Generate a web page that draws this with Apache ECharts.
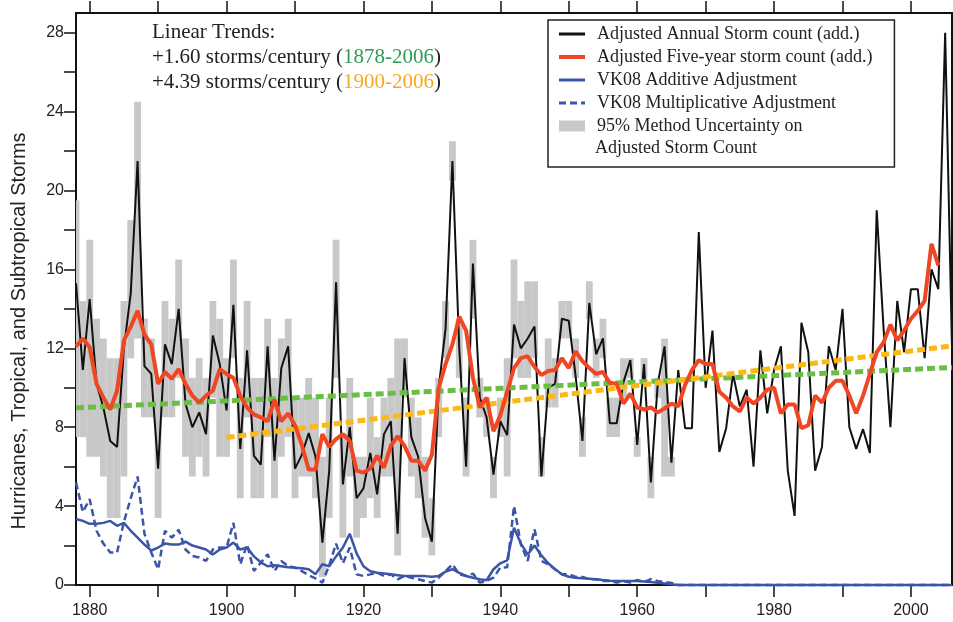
<!DOCTYPE html>
<html>
<head>
<meta charset="utf-8">
<script src="https://cdn.jsdelivr.net/npm/echarts@6/dist/echarts.min.js"></script>
<style>
  html, body { margin: 0; padding: 0; background: #fff; }
  #chart { width: 953px; height: 622px; }
</style>
</head>
<body>
<div id="chart"></div>
<script>
// all yearly arrays start at this year
const FIRST_YEAR = 1878;

// black: adjusted annual storm count, 1878-2006
const annualCount = [
  15.3, 10.9, 14.5, 10.2, 9.0, 7.3, 7.0, 12.0, 14.8, 21.5,
  11.1, 10.7, 5.9, 12.2, 11.2, 14.0, 9.2, 8.0, 8.75, 7.65,
  12.65, 11.2, 8.85, 14.2, 6.9, 11.9, 6.55, 6.1, 12.1, 6.3,
  11.0, 12.1, 5.9, 6.6, 7.7, 6.5, 2.15, 5.8, 15.35, 5.1,
  8.0, 4.4, 4.9, 6.7, 4.6, 7.65, 8.3, 2.6, 11.5, 7.5,
  6.5, 3.4, 2.2, 10.0, 13.0, 21.5, 12.0, 6.0, 16.3, 9.5,
  8.5, 5.6, 8.3, 7.6, 13.2, 12.0, 12.5, 13.1, 5.5, 10.0,
  10.2, 13.5, 13.4, 10.6, 7.3, 14.3, 11.7, 12.5, 8.2, 8.2,
  10.3, 11.4, 7.1, 11.2, 5.2, 10.2, 12.1, 6.2, 10.9, 7.95,
  7.95, 17.9, 10.0, 12.9, 6.75, 7.95, 10.7, 9.05, 9.9, 6.0,
  11.9, 8.7, 10.9, 12.1, 5.8, 3.5, 13.3, 11.8, 5.8, 7.0,
  12.1, 10.9, 14.0, 8.0, 6.9, 7.9, 6.7, 19.0, 13.0, 8.0,
  14.4, 11.8, 15.0, 15.0, 11.5, 16.0, 15.0, 28.0, 12.0
];

// red: five-year storm count, 1878-2004
const fiveYearCount = [
  12.1, 12.5, 12.05, 10.2, 9.5, 8.9, 9.85, 12.4, 13.1, 13.9,
  12.7, 12.2, 10.2, 10.8, 10.45, 10.95, 10.2, 9.6, 9.25, 9.6,
  9.85, 10.95, 10.7, 10.5, 9.6, 9.0, 8.65, 8.5, 8.3, 9.4,
  8.3, 8.7, 8.1, 7.1, 5.85, 5.85, 7.65, 7.0, 7.4, 7.65,
  7.3, 5.8, 5.7, 5.9, 6.55, 5.95, 7.05, 7.55, 7.05, 6.3,
  6.3, 5.8, 6.6, 10.0, 11.2, 12.2, 13.6, 12.9, 10.5, 9.0,
  9.5, 7.8, 8.6, 9.8, 11.0, 11.5, 11.6, 11.05, 10.65, 10.85,
  10.9, 11.5, 11.0, 11.85, 11.35, 11.0, 10.7, 10.8, 10.25, 10.2,
  9.2, 9.7, 9.0, 8.9, 9.0, 8.75, 8.95, 9.2, 9.05, 10.15,
  10.9, 11.4, 11.2, 11.2, 9.8, 9.5, 9.05, 8.8, 9.5, 9.2,
  9.5, 9.9, 10.0, 8.7, 9.15, 9.15, 7.95, 8.1, 9.6, 9.25,
  10.0, 10.35, 10.35, 9.6, 8.7, 9.6, 10.7, 11.8, 12.3, 13.2,
  12.4, 12.9, 13.5, 13.9, 14.4, 17.3, 16.2
];

// blue solid: VK08 additive adjustment, 1878-2006
const vkAdditive = [
  3.35, 3.25, 3.1, 3.1, 3.15, 3.25, 3.0, 3.15, 2.75, 2.4,
  2.05, 1.75, 1.9, 2.1, 2.05, 2.05, 2.2, 2.0, 1.9, 1.8,
  1.55, 1.8, 1.9, 2.15, 1.8, 1.9, 1.45, 1.15, 0.95, 1.0,
  0.95, 0.9, 0.88, 0.85, 0.8, 0.55, 1.05, 0.95, 1.45, 1.9,
  2.6, 1.6, 0.95, 0.7, 0.62, 0.58, 0.54, 0.5, 0.46, 0.46,
  0.45, 0.45, 0.42, 0.46, 0.68, 0.8, 0.62, 0.46, 0.37, 0.29,
  0.24, 0.8, 1.1, 1.25, 2.9, 2.1, 1.55, 2.0, 1.5, 1.1,
  0.8, 0.54, 0.42, 0.37, 0.34, 0.32, 0.29, 0.25, 0.22, 0.2,
  0.2, 0.2, 0.2, 0.18, 0.15, 0.12, 0.08, 0.04, 0, 0,
  0, 0, 0, 0, 0, 0, 0, 0, 0, 0,
  0, 0, 0, 0, 0, 0, 0, 0, 0, 0,
  0, 0, 0, 0, 0, 0, 0, 0, 0, 0,
  0, 0, 0, 0, 0, 0, 0, 0, 0
];

// blue dashed: VK08 multiplicative adjustment, 1878-2006
const vkMultiplicative = [
  5.2, 3.7, 4.35, 2.75, 2.1, 1.65, 1.65, 3.2, 4.4, 5.5,
  2.6, 1.65, 0.8, 2.75, 2.4, 2.8, 1.8, 1.47, 1.39, 1.22,
  1.8, 1.9, 1.9, 3.15, 1.05, 2.05, 0.71, 1.13, 1.56, 0.71,
  1.22, 0.96, 0.88, 0.7, 0.5, 0.33, 0.12, 1.0, 2.1, 1.1,
  1.9, 0.54, 0.46, 0.54, 0.63, 0.46, 0.54, 0.29, 0.46, 0.37,
  0.29, 0.2, 0.12, 0.37, 0.71, 1.05, 0.54, 0.46, 0.58, 0.12,
  0.2, 0.37, 0.88, 0.9, 4.0, 2.07, 1.22, 2.83, 1.22, 1.05,
  0.8, 0.54, 0.54, 0.41, 0.41, 0.29, 0.29, 0.2, 0.2, 0.12,
  0.2, 0.12, 0.25, 0.15, 0.3, 0.2, 0.15, 0.1, 0, 0,
  0, 0, 0, 0, 0, 0, 0, 0, 0, 0,
  0, 0, 0, 0, 0, 0, 0, 0, 0, 0,
  0, 0, 0, 0, 0, 0, 0, 0, 0, 0,
  0, 0, 0, 0, 0, 0, 0, 0, 0
];

// grey bars: 95% method uncertainty, 1878-1965
const uncertaintyHigh = [
  19.5, 14.4, 17.5, 13.5, 12.5, 11.5, 11.5, 14.4, 18.5, 24.5,
  13.5, 12.5, 10.5, 14.4, 13.5, 16.5, 12.5, 10.5, 11.5, 10.5,
  14.4, 13.5, 11.5, 16.5, 10.5, 14.4, 10.5, 10.5, 13.5, 10.5,
  12.5, 13.5, 9.5, 9.5, 10.5, 9.5, 6.5, 9.5, 17.5, 7.5,
  10.5, 6.5, 6.5, 9.5, 7.5, 9.5, 10.5, 12.5, 12.5, 9.5,
  8.5, 6.5, 4.4, 10.5, 14.4, 22.5, 13.5, 9.5, 17.5, 10.5,
  9.5, 6.5, 9.5, 11.5, 16.5, 14.4, 15.4, 15.4, 7.5, 12.5,
  11.5, 14.4, 14.4, 12.5, 8.5, 15.4, 12.5, 13.5, 9.5, 9.5,
  11.5, 11.5, 7.5, 11.5, 6.5, 10.5, 12.5, 6.5
];
const uncertaintyLow = [
  7.5, 7.5, 6.5, 6.5, 5.5, 3.4, 3.4, 5.5, 11.5, 12.5,
  8.5, 8.5, 3.4, 8.5, 8.5, 10.5, 6.5, 5.5, 6.5, 5.5,
  9.5, 6.5, 6.5, 11.5, 4.4, 8.5, 4.4, 4.4, 7.5, 4.4,
  6.5, 7.5, 4.4, 5.5, 5.5, 4.4, 0.4, 3.4, 10.5, 2.4,
  5.5, 2.4, 3.4, 4.4, 3.4, 5.5, 5.5, 1.5, 9.5, 5.5,
  4.4, 2.4, 1.5, 7.5, 11.5, 20.5, 10.5, 5.5, 13.5, 8.5,
  7.5, 4.4, 7.5, 5.5, 11.5, 10.5, 10.5, 11.5, 5.5, 9.0,
  9.0, 12.5, 12.5, 10.5, 6.5, 13.5, 10.5, 11.5, 7.5, 7.5,
  9.5, 10.5, 6.5, 10.5, 4.4, 9.5, 5.5, 5.5
];

// linear trend end points [year, storms]
const trendAll = [[1878, 8.98], [2006, 11.03]];
const trend1900 = [[1900, 7.48], [2006, 12.13]];

const xTicks = [1880, 1890, 1900, 1910, 1920, 1930, 1940, 1950, 1960, 1970, 1980, 1990, 2000];
const xLabels = [1880, 1900, 1920, 1940, 1960, 1980, 2000];
const yTicks = [0, 2, 4, 6, 8, 10, 12, 14, 16, 18, 20, 22, 24, 26, 28];
const yLabels = [0, 4, 8, 12, 16, 20, 24, 28];

const byYear = arr => arr.map((v, i) => [FIRST_YEAR + i, v]);

const SERIF = '"Liberation Serif", "Times New Roman", serif';
const SANS = '"Liberation Sans", Arial, sans-serif';
const BLUE = '#3b55a8';
const GREY = '#c8c8c8';

const chart = echarts.init(document.getElementById('chart'), null, { renderer: 'canvas' });

const axisLine = { show: true, onZero: false, lineStyle: { color: '#111', width: 2 } };
const tickStyle = { color: '#111', width: 1.5 };
// hides the marker dot that echarts puts on line legend icons
const noDot = { opacity: 0 };

chart.setOption({
  animation: false,
  grid: { left: 76, right: 1, top: 13, bottom: 37 },
  xAxis: [
    {
      type: 'value', min: 1878, max: 2006, position: 'bottom',
      axisLine: axisLine,
      axisTick: { show: true, length: 12, customValues: xTicks, lineStyle: tickStyle },
      axisLabel: {
        customValues: xLabels, formatter: v => String(v),
        fontFamily: SANS, fontSize: 16, color: '#222', margin: 18
      },
      splitLine: { show: false }
    },
    {
      type: 'value', min: 1878, max: 2006, position: 'top',
      axisLine: axisLine,
      axisTick: { show: true, length: 12, customValues: xTicks, lineStyle: tickStyle },
      axisLabel: { show: false },
      splitLine: { show: false }
    }
  ],
  yAxis: [
    {
      type: 'value', min: 0, max: 29, position: 'left',
      axisLine: axisLine,
      axisTick: { show: true, length: 12, customValues: yTicks, lineStyle: tickStyle },
      axisLabel: { customValues: yLabels, fontFamily: SANS, fontSize: 16, color: '#222', margin: 12 },
      splitLine: { show: false }
    },
    {
      type: 'value', min: 0, max: 29, position: 'right',
      axisLine: axisLine,
      axisTick: { show: true, length: 12, customValues: yTicks, lineStyle: tickStyle },
      axisLabel: { show: false },
      splitLine: { show: false }
    }
  ],
  legend: {
    orient: 'vertical',
    left: 548, top: 20,
    itemWidth: 26, itemHeight: 11, itemGap: 5,
    padding: [5, 22, 32, 9],
    borderColor: '#222', borderWidth: 1.5,
    backgroundColor: '#fff',
    selectedMode: false,
    textStyle: { fontFamily: SERIF, fontSize: 18, lineHeight: 18, color: '#222', padding: [0, 0, 0, 7] },
    data: [
      { name: 'Adjusted Annual Storm count (add.)', itemStyle: noDot, lineStyle: { width: 3 } },
      { name: 'Adjusted Five-year storm count (add.)', itemStyle: noDot, lineStyle: { width: 4 } },
      { name: 'VK08 Additive Adjustment', itemStyle: noDot, lineStyle: { width: 3 } },
      { name: 'VK08 Multiplicative Adjustment', itemStyle: noDot, lineStyle: { width: 3 } },
      { name: '95% Method Uncertainty on', icon: 'rect', itemStyle: { color: GREY } }
    ]
  },
  graphic: [
    {
      type: 'text', x: 19, y: 331, rotation: Math.PI / 2,
      style: {
        text: 'Hurricanes, Tropical, and Subtropical Storms',
        font: '20px ' + SANS, fill: '#222',
        align: 'center', verticalAlign: 'middle', textAlign: 'center', textVerticalAlign: 'middle'
      }
    },
    {
      type: 'text', x: 152, y: 32,
      style: { text: 'Linear Trends:', font: '21px ' + SERIF, fill: '#222', verticalAlign: 'middle', textVerticalAlign: 'middle' }
    },
    {
      type: 'text', x: 152, y: 57,
      style: {
        text: '+1.60 storms/century ({g|1878-2006})',
        font: '21px ' + SERIF, fill: '#222', verticalAlign: 'middle', textVerticalAlign: 'middle',
        rich: { g: { fontFamily: SERIF, fontSize: 21, fill: '#2f9a55', color: '#2f9a55' } }
      }
    },
    {
      type: 'text', x: 152, y: 82,
      style: {
        text: '+4.39 storms/century ({o|1900-2006})',
        font: '21px ' + SERIF, fill: '#222', verticalAlign: 'middle', textVerticalAlign: 'middle',
        rich: { o: { fontFamily: SERIF, fontSize: 21, fill: '#f7a823', color: '#f7a823' } }
      }
    },
    {
      type: 'text', x: 595, y: 148, z: 100,
      style: { text: 'Adjusted Storm Count', font: '18px ' + SERIF, fill: '#222', verticalAlign: 'middle', textVerticalAlign: 'middle' }
    }
  ],
  series: [
    {
      name: '95% Method Uncertainty on',
      type: 'custom',
      itemStyle: { color: GREY },
      encode: { x: 0, y: [1, 2] },
      data: uncertaintyHigh.map((h, i) => [FIRST_YEAR + i, uncertaintyLow[i], h]),
      renderItem: (params, api) => {
        const year = api.value(0);
        const p0 = api.coord([year - 0.5, api.value(2)]);
        const p1 = api.coord([year + 0.5, api.value(1)]);
        const rect = echarts.graphic.clipRectByRect(
          { x: p0[0], y: p0[1], width: p1[0] - p0[0], height: p1[1] - p0[1] },
          { x: params.coordSys.x, y: params.coordSys.y, width: params.coordSys.width, height: params.coordSys.height }
        );
        return rect && { type: 'rect', shape: rect, style: { fill: GREY } };
      },
      z: 1
    },
    {
      name: 'Adjusted Annual Storm count (add.)',
      type: 'line', symbol: 'none', z: 3,
      data: byYear(annualCount),
      itemStyle: { color: '#111' },
      lineStyle: { color: '#111', width: 2 }
    },
    {
      name: 'trend 1878-2006',
      type: 'line', symbol: 'none', z: 4,
      data: trendAll,
      lineStyle: { color: '#6abd45', width: 5, type: [8, 4] }
    },
    {
      name: 'trend 1900-2006',
      type: 'line', symbol: 'none', z: 4,
      data: trend1900,
      lineStyle: { color: '#fdb913', width: 5, type: [8, 4] }
    },
    {
      name: 'Adjusted Five-year storm count (add.)',
      type: 'line', symbol: 'none', z: 5,
      data: byYear(fiveYearCount),
      itemStyle: { color: '#ef4723' },
      lineStyle: { color: '#ef4723', width: 4 }
    },
    {
      name: 'VK08 Additive Adjustment',
      type: 'line', symbol: 'none', z: 6, clip: false,
      data: byYear(vkAdditive),
      itemStyle: { color: BLUE },
      lineStyle: { color: BLUE, width: 2.5 }
    },
    {
      name: 'VK08 Multiplicative Adjustment',
      type: 'line', symbol: 'none', z: 6, clip: false,
      data: byYear(vkMultiplicative),
      itemStyle: { color: BLUE },
      lineStyle: { color: BLUE, width: 2.5, type: [7, 4] }
    }
  ]
});
</script>
</body>
</html>
